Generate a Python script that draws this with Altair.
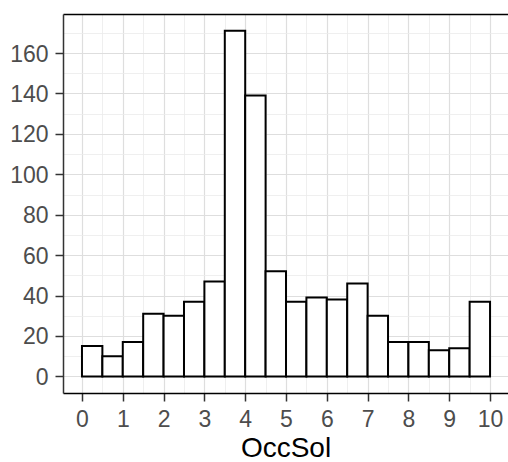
import altair as alt
import pandas as pd

bin_start = [0.0, 0.5, 1.0, 1.5, 2.0, 2.5, 3.0, 3.5, 4.0, 4.5,
             5.0, 5.5, 6.0, 6.5, 7.0, 7.5, 8.0, 8.5, 9.0, 9.5]
bin_end = [0.5, 1.0, 1.5, 2.0, 2.5, 3.0, 3.5, 4.0, 4.5, 5.0,
           5.5, 6.0, 6.5, 7.0, 7.5, 8.0, 8.5, 9.0, 9.5, 10.0]
counts = [15, 10, 17, 31, 30, 37, 47, 171, 139, 52,
          37, 39, 38, 46, 30, 17, 17, 13, 14, 37]

x_major = [0, 1, 2, 3, 4, 5, 6, 7, 8, 9, 10]
x_minor = [0.5, 1.5, 2.5, 3.5, 4.5, 5.5, 6.5, 7.5, 8.5, 9.5]
y_major = [0, 20, 40, 60, 80, 100, 120, 140, 160]
y_minor = [10, 30, 50, 70, 90, 110, 130, 150, 170]

df = pd.DataFrame({"start": bin_start, "end": bin_end, "count": counts,
                   "zero": [0] * len(counts)})

FONT = "Liberation Sans"
xscale = alt.Scale(domain=[-0.465, 10.44], nice=False, zero=False)
yscale = alt.Scale(domain=[-8.2, 179.3], nice=False, zero=False)

minor = alt.Chart(df).mark_point(opacity=0).encode(
    x=alt.X("start:Q", scale=xscale,
            axis=alt.Axis(orient="top", values=x_minor, grid=True, gridColor="#ebebeb",
                          gridWidth=0.8, labels=False, ticks=False, domain=True,
                          domainColor="#000000", domainWidth=1.5, title=None)),
    y=alt.Y("count:Q", scale=yscale,
            axis=alt.Axis(orient="right", values=y_minor, grid=True, gridColor="#ebebeb",
                          gridWidth=0.8, labels=False, ticks=False, domain=False, title=None)),
)

bars = alt.Chart(df).mark_rect(fill="white", stroke="black", strokeWidth=2).encode(
    x=alt.X("start:Q", scale=xscale,
            axis=alt.Axis(values=x_major, grid=True, gridColor="#dedede", gridWidth=1.2,
                          labelFontSize=23, labelColor="#4d4d4d", labelFont=FONT,
                          tickColor="#333333", tickSize=8, tickWidth=1.5,
                          domainColor="#000000", domainWidth=1.5, labelPadding=7,
                          title="OccSol", titleFontSize=28, titleFont=FONT,
                          titleFontWeight="normal", titleColor="#000000",
                          titleBaseline="alphabetic", titleY=63)),
    x2="end:Q",
    y=alt.Y("zero:Q", scale=yscale,
            axis=alt.Axis(values=y_major, grid=True, gridColor="#dedede", gridWidth=1.2,
                          labelFontSize=23, labelColor="#4d4d4d", labelFont=FONT,
                          tickColor="#333333", tickSize=8, tickWidth=1.5,
                          domainColor="#333333", domainWidth=1.5, labelPadding=7,
                          labelOffset=1, title=None)),
    y2="count:Q",
)

chart = alt.layer(minor, bars).resolve_axis(x="independent", y="independent").properties(
    width=445, height=379,
    autosize=alt.AutoSizeParams(type="none"),
    padding={"left": 63, "top": 14, "right": 0, "bottom": 69},
    background="white",
).configure_view(stroke=None)

chart.save("out.html", embed_options={"renderer": "svg", "actions": False})
